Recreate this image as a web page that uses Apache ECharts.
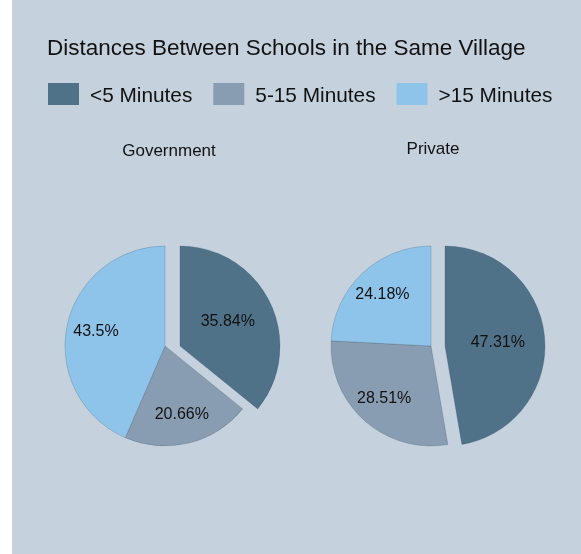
<!DOCTYPE html>
<html>
<head>
<meta charset="utf-8">
<script src="https://cdn.jsdelivr.net/npm/echarts@6/dist/echarts.min.js"></script>
<style>
  html, body { margin: 0; padding: 0; background: #ffffff; }
  #main { position: absolute; left: 12px; top: 0; width: 569px; height: 554px; }
</style>
</head>
<body>
<div id="main"></div>
<script>
// data
var categories = ['<5 Minutes', '5-15 Minutes', '>15 Minutes'];
var colors = ['#4F7289', '#889DB2', '#8EC4EA'];
var groupNames = ['Government', 'Private'];
var governmentValues = [35.84, 20.66, 43.5];
var privateValues = [47.31, 28.51, 24.18];
var groupValues = [governmentValues, privateValues];

var myChart = echarts.init(document.getElementById('main'));

// layout (pixels inside the chart div)
var pieCenters = [[153, 346], [419, 346]];
var pieRadius = 100;
var explodeShift = [15, 14];   // the first slice is pulled out sideways
var labelPush = 0.33;          // labels of the other slices sit further out
var pulledLabelDy = [-2, 1];

function makeData(values, visible) {
    return values.map(function (v, i) {
        var show = visible(i);
        return {
            name: categories[i],
            value: v,
            itemStyle: show
                ? { color: colors[i], borderColor: 'rgba(40,60,80,0.35)', borderWidth: 0.6 }
                : { color: 'rgba(0,0,0,0)', borderWidth: 0 },
            label: { show: show }
        };
    });
}

var labelStyle = {
    position: 'inside',
    formatter: '{c}%',
    fontFamily: 'Liberation Sans',
    fontSize: 16,
    color: '#111'
};

var series = [];
var titles = [{
    text: 'Distances Between Schools in the Same Village',
    left: 35,
    top: 37,
    padding: 0,
    textStyle: { fontFamily: 'Liberation Sans', fontSize: 22.5, fontWeight: 'normal', color: '#111' }
}];
var titleTops = [143, 141];
var titleShifts = [4, 2];

groupNames.forEach(function (g, k) {
    var c = pieCenters[k];
    titles.push({
        text: g,
        left: c[0] + titleShifts[k],
        top: titleTops[k],
        textAlign: 'center',
        padding: 0,
        textStyle: { fontFamily: 'Liberation Sans', fontSize: 17, fontWeight: 'normal', color: '#111' }
    });
    // the slices that stay in place
    series.push({
        name: g,
        type: 'pie',
        center: c,
        radius: pieRadius,
        startAngle: 90,
        clockwise: true,
        silent: true,
        data: makeData(groupValues[k], function (i) { return i !== 0; }),
        label: labelStyle,
        labelLayout: function (p) {
            var lx = p.labelRect.x + p.labelRect.width / 2;
            var ly = p.labelRect.y + p.labelRect.height / 2;
            return { dx: (lx - c[0]) * labelPush, dy: (ly - c[1]) * labelPush };
        },
        labelLine: { show: false }
    });
    // the pulled-out slice
    series.push({
        name: g + ' ',
        type: 'pie',
        center: [c[0] + explodeShift[k], c[1]],
        radius: pieRadius,
        startAngle: 90,
        clockwise: true,
        silent: true,
        data: makeData(groupValues[k], function (i) { return i === 0; }),
        label: labelStyle,
        labelLayout: function (p) {
            return { dy: pulledLabelDy[k] };
        },
        labelLine: { show: false }
    });
});

var option = {
    backgroundColor: '#C5D2DE',
    animation: false,
    title: titles,
    legend: {
        left: 36,
        top: 81,
        padding: 0,
        itemWidth: 31,
        itemHeight: 22,
        itemGap: 21,
        icon: 'rect',
        data: categories.map(function (name, i) {
            return { name: name, itemStyle: { color: colors[i], borderWidth: 0 } };
        }),
        formatter: '{t|{name}}',
        textStyle: {
            fontFamily: 'Liberation Sans',
            fontSize: 20.8,
            color: '#111',
            rich: {
                t: {
                    fontFamily: 'Liberation Sans',
                    fontSize: 20.8,
                    color: '#111',
                    lineHeight: 22,
                    padding: [5, 0, 0, 6]
                }
            }
        }
    },
    series: series
};

myChart.setOption(option);
</script>
</body>
</html>
